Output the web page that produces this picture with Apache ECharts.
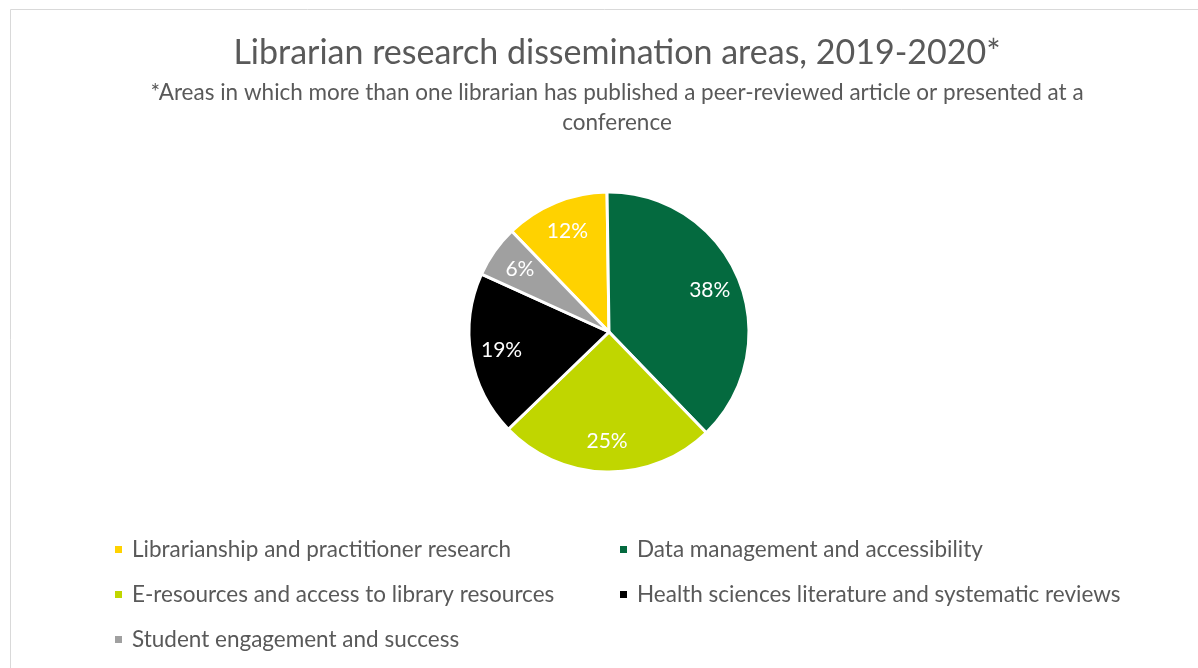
<!DOCTYPE html>
<html>
<head>
<meta charset="utf-8">
<title>Librarian research dissemination areas</title>
<script src="https://cdn.jsdelivr.net/npm/echarts@6/dist/echarts.min.js"></script>
<style>
    html, body {
        margin: 0;
        padding: 0;
        background: #fff;
    }
    #chart {
        width: 1198px;
        height: 668px;
    }
</style>
</head>
<body>
<div id="chart"></div>
<script>
// data (percent of areas)
const areas = [
    'Librarianship and practitioner research',
    'Data management and accessibility',
    'E-resources and access to library resources',
    'Health sciences literature and systematic reviews',
    'Student engagement and success'
];
const shares = [12, 38, 25, 19, 6];
const colors = ['#ffd200', '#046a3f', '#c0d600', '#000000', '#a0a0a0'];

const titleText = 'Librarian research dissemination areas, 2019-2020*';
const subText = '*Areas in which more than one librarian has published a peer-reviewed article or presented at a\nconference';

const font = 'Lato, "Open Sans", sans-serif';
const pieData = areas.map((name, i) => ({ name: name, value: shares[i] }));

const chart = echarts.init(document.getElementById('chart'));

const option = {
    animation: false,
    color: colors,
    title: {
        text: titleText,
        subtext: subText,
        left: 612,
        top: 31,
        textAlign: 'center',
        itemGap: 8,
        textStyle: {
            fontFamily: font,
            fontSize: 34,
            fontWeight: 'normal',
            color: '#595959'
        },
        subtextStyle: {
            fontFamily: font,
            fontSize: 22.5,
            color: '#595959',
            lineHeight: 30,
            align: 'center'
        }
    },
    legend: {
        left: 108,
        top: 530,
        width: 1080,
        icon: 'rect',
        itemWidth: 9,
        itemHeight: 9,
        itemGap: 16,
        data: areas,
        textStyle: {
            fontFamily: font,
            fontSize: 22.5,
            color: '#595959',
            width: 470,
            lineHeight: 29,
            padding: [0, 0, 0, 4]
        }
    },
    graphic: [{
        type: 'rect',
        shape: { x: 10.5, y: 9.5, width: 1200, height: 700 },
        style: { fill: 'none', stroke: '#d9d9d9', lineWidth: 1 },
        silent: true
    }],
    series: [
        {
            // the slices
            type: 'pie',
            center: [609, 332],
            radius: [0, 140],
            startAngle: 134,
            clockwise: true,
            label: { show: false },
            labelLine: { show: false },
            itemStyle: { borderColor: '#fff', borderWidth: 3 },
            emphasis: { disabled: true },
            data: pieData
        },
        {
            // invisible ring that only carries the value labels
            type: 'pie',
            center: [609, 332],
            radius: [72, 140],
            startAngle: 134,
            clockwise: true,
            silent: true,
            itemStyle: { color: 'transparent', borderWidth: 0 },
            label: {
                show: true,
                position: 'inside',
                formatter: '{c}%',
                fontFamily: font,
                fontSize: 21,
                color: '#fff'
            },
            labelLine: { show: false },
            emphasis: { disabled: true },
            data: pieData
        }
    ]
};

chart.setOption(option);
</script>
</body>
</html>
